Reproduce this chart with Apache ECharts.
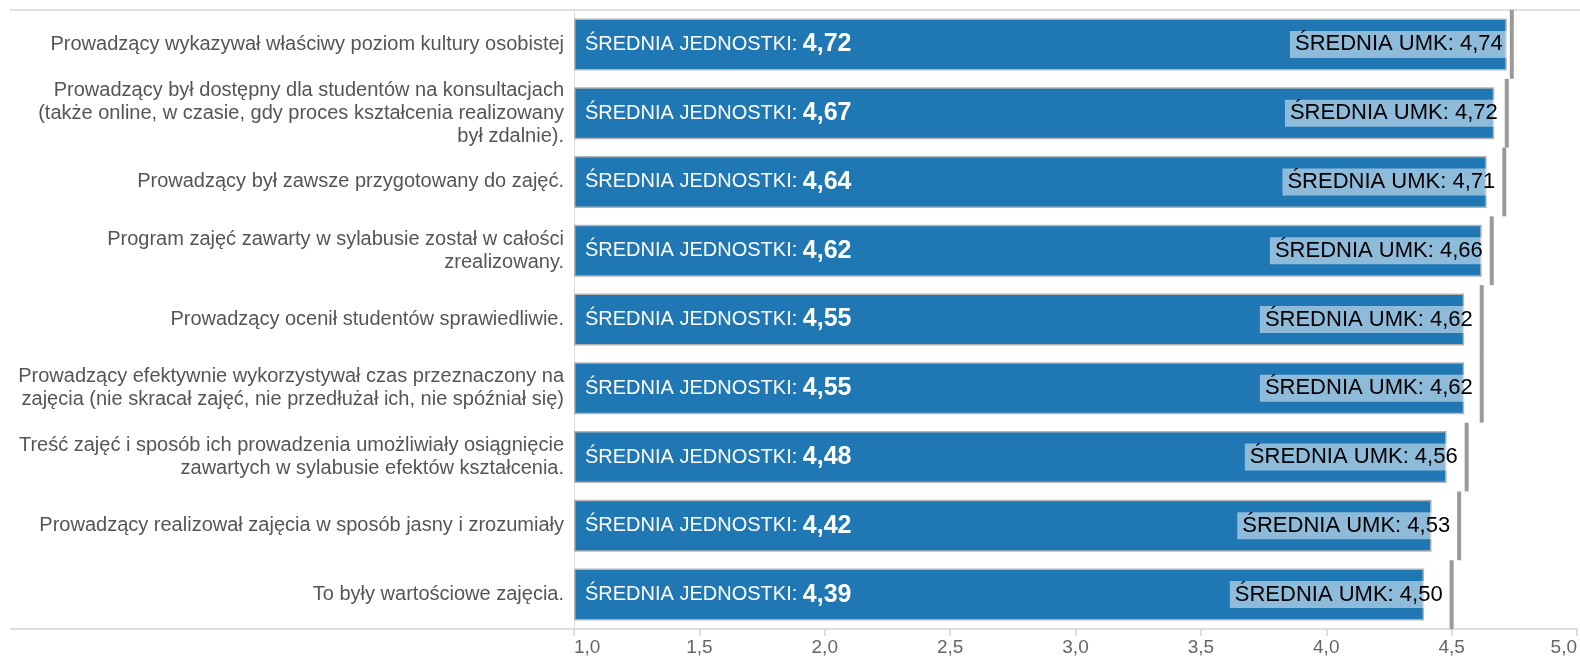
<!doctype html>
<html>
<head>
<meta charset="UTF-8">
<title>Średnie ocen</title>
<script src="https://cdn.jsdelivr.net/npm/echarts@6/dist/echarts.min.js"></script>
<style>
	html, body { margin: 0; padding: 0; background: #fff; }
	#chart { width: 1580px; height: 661px; }
</style>
</head>
<body>
<div id="chart"></div>
<script type="text/javascript">
	// pytania (kolejność od góry)
	var categories = [
		'Prowadzący wykazywał właściwy poziom kultury osobistej',
		'Prowadzący był dostępny dla studentów na konsultacjach\n(także online, w czasie, gdy proces kształcenia realizowany\nbył zdalnie).',
		'Prowadzący był zawsze przygotowany do zajęć.',
		'Program zajęć zawarty w sylabusie został w całości\nzrealizowany.',
		'Prowadzący ocenił studentów sprawiedliwie.',
		'Prowadzący efektywnie wykorzystywał czas przeznaczony na\nzajęcia (nie skracał zajęć, nie przedłużał ich, nie spóźniał się)',
		'Treść zajęć i sposób ich prowadzenia umożliwiały osiągnięcie\nzawartych w sylabusie efektów kształcenia.',
		'Prowadzący realizował zajęcia w sposób jasny i zrozumiały',
		'To były wartościowe zajęcia.'
	];
	// średnia jednostki
	var unitValues = [4.72, 4.67, 4.64, 4.62, 4.55, 4.55, 4.48, 4.42, 4.39];
	// średnia UMK
	var umkValues = [4.74, 4.72, 4.71, 4.66, 4.62, 4.62, 4.56, 4.53, 4.50];

	var FONT = '"Liberation Sans", Arial, sans-serif';

	function fmt(v, d) {
		return v.toFixed(d).replace('.', ',');
	}

	var umkData = [];
	for (var i = 0; i < umkValues.length; i++) {
		umkData.push([umkValues[i], i]);
	}

	var chart = echarts.init(document.getElementById('chart'));

	var option = {
		animation: false,
		textStyle: { fontFamily: FONT },
		grid: { left: 574, right: 2, top: 10, bottom: 32 },
		xAxis: {
			type: 'value',
			min: 1,
			max: 5,
			interval: 0.5,
			startValue: 1,
			axisLine: { show: true, lineStyle: { color: '#d4d4d4', width: 1.5 } },
			axisTick: { show: true, length: 7, lineStyle: { color: '#d4d4d4', width: 1.5 } },
			splitLine: { show: false },
			axisLabel: {
				color: '#666',
				fontSize: 19,
				margin: 9,
				fontFamily: FONT,
				alignMinLabel: 'left',
				alignMaxLabel: 'right',
				formatter: function(v) { return fmt(v, 1); }
			}
		},
		yAxis: {
			type: 'category',
			data: categories,
			inverse: true,
			axisLine: { show: true, lineStyle: { color: '#dcdcdc', width: 1 } },
			axisTick: { show: false },
			axisLabel: {
				color: '#555',
				fontSize: 20,
				lineHeight: 23,
				margin: 10,
				align: 'right',
				fontFamily: FONT
			}
		},
		graphic: [
			{ type: 'line', shape: { x1: 10, y1: 10, x2: 1580, y2: 10 }, style: { stroke: '#d4d4d4', lineWidth: 1.5 }, z: 0 },
			{ type: 'line', shape: { x1: 10, y1: 629, x2: 574, y2: 629 }, style: { stroke: '#d4d4d4', lineWidth: 1.5 }, z: 0 }
		],
		series: [
			{
				name: 'ŚREDNIA JEDNOSTKI',
				type: 'bar',
				data: unitValues,
				barWidth: 52,
				z: 2,
				itemStyle: {
					color: '#1f77b4',
					borderColor: '#b4b4b4',
					borderWidth: 1.5
				},
				label: {
					show: true,
					position: 'insideLeft',
					distance: 11,
					color: '#fff',
					fontSize: 20,
					fontFamily: FONT,
					formatter: function(p) {
						return 'ŚREDNIA JEDNOSTKI: {v|' + fmt(p.value, 2) + '}';
					},
					rich: {
						v: { color: '#fff', fontSize: 25, fontWeight: 'bold', fontFamily: FONT }
					}
				}
			},
			{
				name: 'ŚREDNIA UMK',
				type: 'custom',
				data: umkData,
				encode: { x: 0, y: 1 },
				z: 5,
				renderItem: function(params, api) {
					var pt = api.coord([api.value(0), api.value(1)]);
					var band = api.size([0, 1])[1];
					return {
						type: 'group',
						children: [
							{
								type: 'text',
								z2: 10,
								style: {
									text: 'ŚREDNIA UMK: ' + fmt(api.value(0), 2),
									x: pt[0] - 4,
									y: pt[1],
									align: 'right',
									verticalAlign: 'middle',
									fill: '#000',
									font: '22px ' + FONT,
									backgroundColor: 'rgba(255,255,255,0.5)',
									padding: [3, 5, 2, 5]
								}
							},
							{
								type: 'line',
								shape: { x1: pt[0], y1: pt[1] - band / 2, x2: pt[0], y2: pt[1] + band / 2 },
								style: { stroke: '#9a9a9a', lineWidth: 4 }
							}
						]
					};
				}
			}
		]
	};

	chart.setOption(option);
</script>
</body>
</html>
